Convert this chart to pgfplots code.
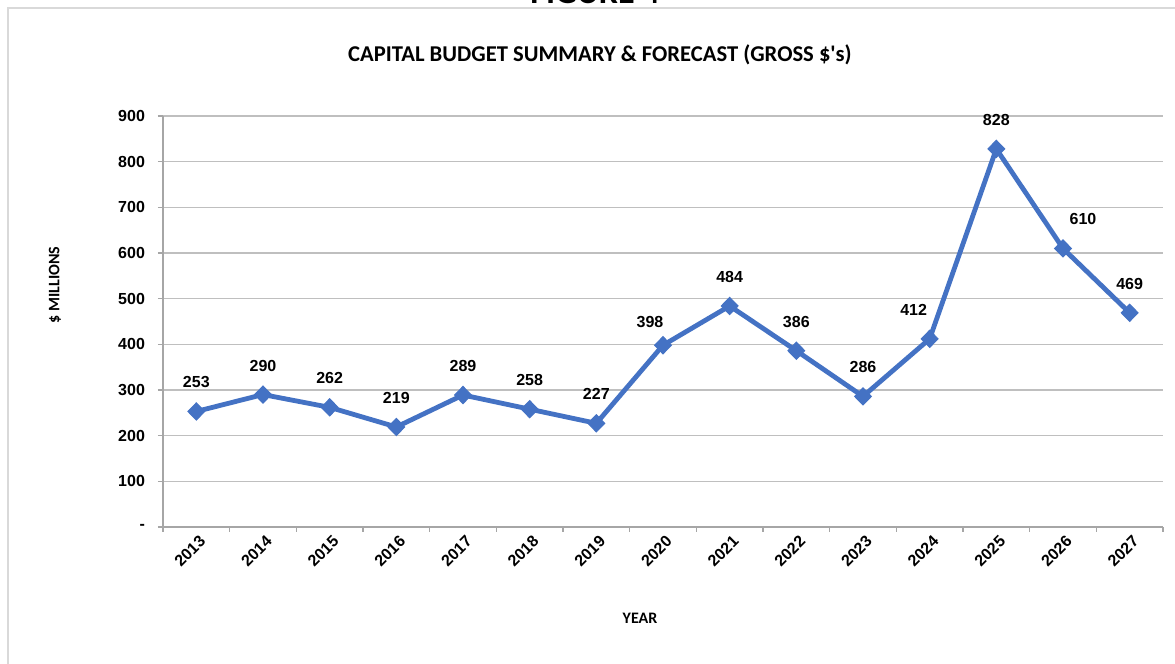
\documentclass[border=0pt]{standalone}
\usepackage{pgfplots}
\pgfplotsset{compat=1.18}
\usepackage{fontspec}
\setmainfont{Liberation Sans}
\newfontfamily\calibri{Carlito}
\definecolor{serieblue}{HTML}{4472C4}
\definecolor{gridgray}{HTML}{BFBFBF}
\definecolor{axisgray}{HTML}{A6A6A6}
\definecolor{framegray}{HTML}{D9D9D9}

\begin{document}
\begin{tikzpicture}[x=0.5pt,y=0.5pt]
\clip (0,0) rectangle (1175,664);
\fill[white] (0,0) rectangle (1175,664);
\draw[framegray, line width=1pt] (8,-20) -- (8,656) -- (1200,656);
% page heading, cut off at the top
\node[anchor=base, inner sep=0pt, font=\calibri\bfseries\fontsize{17}{20}\selectfont] at (595,660) {FIGURE 4};
\node[font=\calibri\bfseries\fontsize{11.3}{13}\selectfont] at (600,609) {CAPITAL BUDGET SUMMARY \& FORECAST (GROSS \$'s)};
\node[rotate=90, font=\calibri\bfseries\fontsize{8}{10}\selectfont] at (55,379) {\$ MILLIONS};
\node[font=\calibri\bfseries\fontsize{8}{10}\selectfont] at (640,46) {YEAR};

\begin{axis}[
  at={(81.5pt,68.5pt)}, anchor=south west,
  width=500pt, height=205.5pt, scale only axis,
  /pgf/number format/assume math mode=true,
  xmin=-0.5, xmax=14.5,
  ymin=0, ymax=900,
  axis x line*=bottom, axis y line*=left,
  axis line style={axisgray, line width=0.6pt},
  xtick={0,...,14},
  xticklabels={2013,2014,2015,2016,2017,2018,2019,2020,2021,2022,2023,2024,2025,2026,2027},
  minor xtick={-0.5,0.5,...,14.5},
  major x tick style={draw=none},
  minor x tick style={axisgray, line width=0.6pt},
  ytick={0,100,...,900},
  yticklabels={-,100,200,300,400,500,600,700,800,900},
  y tick style={axisgray, line width=0.6pt},
  tick align=outside,
  major tick length=2.5pt, minor tick length=2.5pt,
  ymajorgrids=true,
  grid style={gridgray, line width=0.6pt},
  xticklabel style={font=\bfseries\fontsize{8}{9}\selectfont, rotate=45, anchor=east, inner sep=1pt, xshift=1pt, yshift=-4.5pt},
  yticklabel style={font=\bfseries\fontsize{8}{9}\selectfont, xshift=-3pt},
  clip=false,
]
\addplot[color=serieblue, line width=2.4pt, mark=diamond*,
  mark size=4.3pt, mark options={xscale=1.3, fill=serieblue, draw=serieblue, line width=0.5pt},
  nodes near coords,
  every node near coord/.append style={font=\bfseries\fontsize{8}{9}\selectfont, text=black, anchor=center, yshift=14.5pt},
  coordinate style/.condition={x==7}{xshift=-6.5pt, yshift=-3pt},
  coordinate style/.condition={x==11}{xshift=-8pt},
  coordinate style/.condition={x==13}{xshift=10pt},
]
coordinates {
  (0,253) (1,290) (2,262) (3,219) (4,289) (5,258) (6,227) (7,398)
  (8,484) (9,386) (10,286) (11,412) (12,828) (13,610) (14,469)
};
\end{axis}
\end{tikzpicture}
\end{document}
